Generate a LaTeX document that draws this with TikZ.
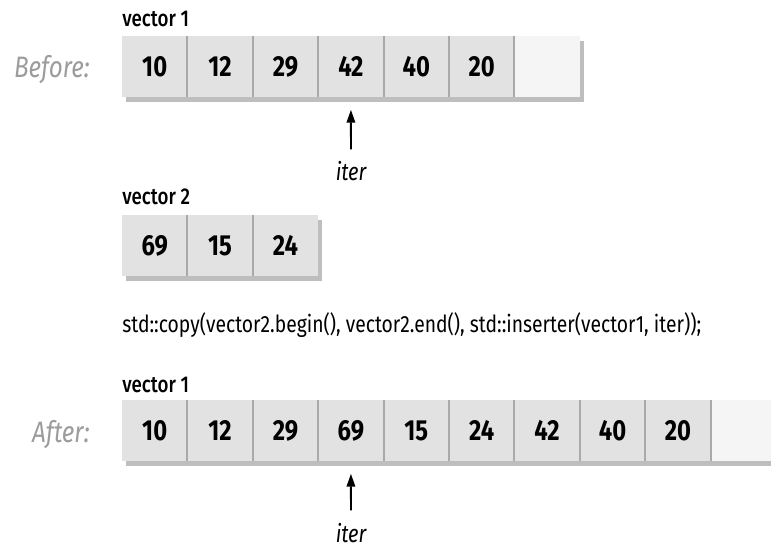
\documentclass[tikz,border=0pt]{standalone}
\usepackage{fontspec}
\setmainfont{Fira Sans}[FakeStretch=0.82]
\newfontfamily\labelfont{Fira Sans Medium}[FakeStretch=0.82]
\usetikzlibrary{arrows.meta, positioning, calc, backgrounds}
\definecolor{CellGray}{HTML}{E2E2E2}
\definecolor{SpareGray}{HTML}{F5F5F5}
\definecolor{RuleGray}{HTML}{A9A9A9}
\definecolor{ShadeGray}{HTML}{BEBEBE}
\definecolor{TagGray}{HTML}{9C9C9C}

\begin{document}
\begin{tikzpicture}[
        x=0.02cm, y=-0.02cm,
        cell/.style={fill=CellGray, inner sep=0pt, outer sep=0pt,
                     minimum width=1.308cm, minimum height=1.21cm,
                     font=\fontsize{16.5}{18}\selectfont\bfseries},
        spare/.style={cell, fill=SpareGray},
        rule/.style={draw=RuleGray, line width=1.1pt},
        shade/.style={fill=ShadeGray},
        vname/.style={inner sep=0pt, anchor=base west,
                      font=\fontsize{13}{15}\selectfont\labelfont},
        tag/.style={inner sep=0pt, anchor=base east, text=TagGray,
                    font=\fontsize{16.8}{18}\selectfont\itshape},
        itername/.style={inner sep=0pt, anchor=base,
                         font=\fontsize{14}{16}\selectfont\itshape},
        code/.style={inner sep=0pt, anchor=base west,
                     font=\fontsize{13.4}{15}\selectfont},
        ptr/.style={-{Triangle[length=2.6mm, width=1.7mm]}, line width=1.1pt,
                    shorten >=0.26cm, shorten <=0.24cm},
      ]
        \clip (0,0) rectangle (771,547);

        % before: vector 1 with one spare slot
        \node[tag]   (before) at (90,78)  {Before:};
        \node[vname] (vecb)   at (122,27) {vector 1};
        \foreach \v [count=\i] in {10,12,29,42,40,20}
          \node[cell] (b\i) at ({154.7+65.4*(\i-1)},66.5) {\v};
        \node[spare] (b7) at (547.1,66.5) {};
        \foreach \i in {1,...,6}
          \draw[rule] (b\i.north east) -- (b\i.south east);
        \begin{scope}[on background layer]
          \fill[shade] ($(b1.north west)+(4,5)$) rectangle ($(b7.south east)+(4,5)$);
        \end{scope}
        \node[itername] (iterb) at (351,181) {iter};
        \draw[ptr] (iterb.north) -- (b4.south);

        % vector 2
        \node[vname] (vecs) at (122,205) {vector 2};
        \foreach \v [count=\i] in {69,15,24}
          \node[cell] (s\i) at ({154.7+65.4*(\i-1)},245.5) {\v};
        \foreach \i in {1,2}
          \draw[rule] (s\i.north east) -- (s\i.south east);
        \begin{scope}[on background layer]
          \fill[shade] ($(s1.north west)+(4,5)$) rectangle ($(s3.south east)+(4,5)$);
        \end{scope}

        \node[code] (call) at (122,333)
          {std::copy(vector2.begin(), vector2.end(), std::inserter(vector1, iter));};

        % after: vector 1 with the inserted run
        \node[tag]   (after) at (90,442)  {After:};
        \node[vname] (veca)  at (122,392) {vector 1};
        \foreach \v [count=\i] in {10,12,29,69,15,24,42,40,20}
          \node[cell] (a\i) at ({154.7+65.4*(\i-1)},430.5) {\v};
        \node[spare] (a10) at (743.3,430.5) {};
        \foreach \i in {1,...,9}
          \draw[rule] (a\i.north east) -- (a\i.south east);
        \begin{scope}[on background layer]
          \fill[shade] ($(a1.north west)+(4,5)$) rectangle ($(a10.south east)+(4,5)$);
        \end{scope}
        \node[itername] (itera) at (351,542) {iter};
        \draw[ptr] (itera.north) -- (a4.south);
      \end{tikzpicture}
\end{document}
